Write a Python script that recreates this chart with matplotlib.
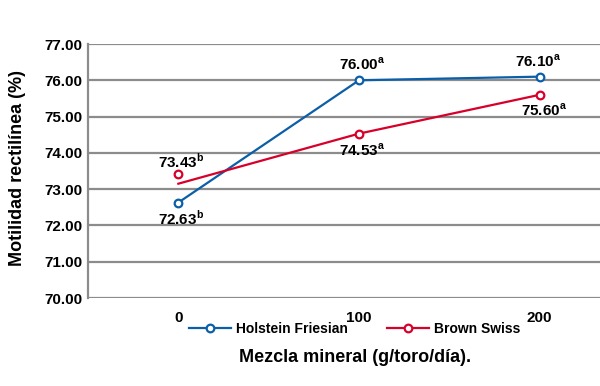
import matplotlib
matplotlib.use("Agg")
import matplotlib.pyplot as plt
from matplotlib.lines import Line2D

plt.rcParams['font.family'] = ['Liberation Sans', 'DejaVu Sans']
plt.rcParams['font.weight'] = 'bold'
plt.rcParams['mathtext.fontset'] = 'custom'
plt.rcParams['mathtext.bf'] = 'Liberation Sans:bold'
plt.rcParams['mathtext.rm'] = 'Liberation Sans:bold'

categories = ["0", "100", "200"]
holstein = [72.63, 76.00, 76.10]
holstein_letters = ["b", "a", "a"]
brown_points = [73.43, 74.53, 75.60]
brown_line = [73.15, 74.53, 75.60]
brown_letters = ["b", "a", "a"]
yticks = [70, 71, 72, 73, 74, 75, 76, 77]

blue = "#0b5ea8"
red = "#d8002b"
grid_c = "#8c8c8c"

fig = plt.figure(figsize=(6, 3.86), dpi=100)
ax = fig.add_axes([88/600, 88/386, 542/600, 254/386])
x = list(range(len(categories)))

ax.plot(x, holstein, color=blue, lw=1.6, zorder=3)
ax.plot(x, holstein, ls='none', marker='o', ms=5.5, mfc='white', mec=blue, mew=1.6, zorder=4)
ax.plot(x, brown_line, color=red, lw=1.6, zorder=3)
ax.plot(x, brown_points, ls='none', marker='o', ms=5.5, mfc='white', mec=red, mew=1.6, zorder=4)

# labels: (dx, dy) offsets in points
h_off = [(2, -11.5), (2, 11.5), (-1, 11)]
b_off = [(2, 9), (2, -12), (3, -11)]
for i in x:
    ax.annotate(f"{holstein[i]:.2f}" + r"$^{\mathbf{" + holstein_letters[i] + "}}$",
                (i, holstein[i]), xytext=h_off[i], textcoords='offset points',
                ha='center', va='center', fontsize=11, fontweight='bold')
    ax.annotate(f"{brown_points[i]:.2f}" + r"$^{\mathbf{" + brown_letters[i] + "}}$",
                (i, brown_points[i]), xytext=b_off[i], textcoords='offset points',
                ha='center', va='center', fontsize=11, fontweight='bold')

ax.set_xlim(-0.5, 2.5)
ax.set_ylim(70, 77)
ax.set_yticks(yticks)
ax.set_yticklabels([f"{v:.2f}" for v in yticks], fontsize=11, fontweight='bold')
ax.set_xticks(x)
ax.set_xticklabels(categories, fontsize=11, fontweight='bold')
ax.tick_params(axis='both', length=0)
ax.tick_params(axis='x', pad=9)
ax.tick_params(axis='y', pad=4)
ax.grid(axis='y', color=grid_c, lw=1.6)
ax.set_axisbelow(True)
for s in ['top', 'right', 'bottom']:
    ax.spines[s].set_visible(False)
ax.spines['left'].set_color(grid_c)
ax.spines['left'].set_linewidth(1.6)

fig.text(18/600, 1 - 168/386, "Motilidad rectilínea (%)", rotation=90,
         ha='center', va='center', fontsize=13, fontweight='bold')
fig.text(355/600, 1 - 357/386, "Mezcla mineral (g/toro/día).",
         ha='center', va='center', fontsize=13, fontweight='bold')

handles = [Line2D([], [], color=blue, lw=1.6, marker='o', ms=5.5, mfc='white', mec=blue, mew=1.6),
           Line2D([], [], color=red, lw=1.6, marker='o', ms=5.5, mfc='white', mec=red, mew=1.6)]
fig.legend(handles, ["Holstein Friesian", "Brown Swiss"], loc='center',
           bbox_to_anchor=(355/600, 1 - 329/386), ncol=2, frameon=False,
           fontsize=10, handlelength=3.0, handletextpad=0.4, columnspacing=2.8,
           prop={'weight': 'bold', 'size': 10})

fig.savefig("out.png", dpi=100)
